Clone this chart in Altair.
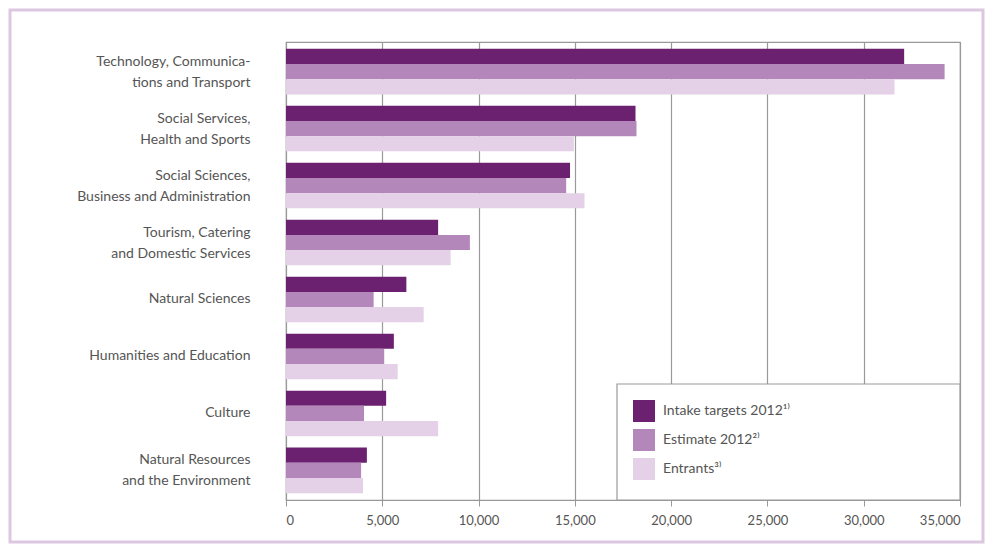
import altair as alt
import pandas as pd

categories = [
    "Technology, Communica-|tions and Transport",
    "Social Services,|Health and Sports",
    "Social Sciences,|Business and Administration",
    "Tourism, Catering|and Domestic Services",
    "Natural Sciences",
    "Humanities and Education",
    "Culture",
    "Natural Resources|and the Environment",
]
series = ["Intake targets 2012¹⁾", "Estimate 2012²⁾", "Entrants³⁾"]
intake = [32100, 18150, 14750, 7900, 6250, 5600, 5200, 4200]
estimate = [34200, 18200, 14550, 9550, 4550, 5100, 4050, 3900]
entrants = [31600, 14950, 15500, 8550, 7150, 5800, 7900, 4000]
colors = ["#6b2170", "#b487bb", "#e4d0e7"]
x_ticks = [0, 5000, 10000, 15000, 20000, 25000, 30000, 35000]

rows = []
for i, c in enumerate(categories):
    for s, vals in zip(series, [intake, estimate, entrants]):
        rows.append({"category": c, "series": s, "value": vals[i]})
df = pd.DataFrame(rows)

W, H = 674, 458
FONT = "Lato"
TXT = "#555555"

one = pd.DataFrame({"a": [0]})

frame = alt.Chart(one).mark_rect(filled=False, stroke="#dcc6e0", strokeWidth=3).encode(
    x=alt.value(-276), x2=alt.value(W + 23), y=alt.value(-32), y2=alt.value(H + 42)
)

legend_box = alt.Chart(one).mark_rect(fill="white", stroke="#999999", strokeWidth=1.2).encode(
    x=alt.value(331), x2=alt.value(W), y=alt.value(342), y2=alt.value(H)
)

bars = alt.Chart(df).mark_bar().encode(
    x=alt.X(
        "value:Q",
        scale=alt.Scale(domain=[0, 35000], nice=False),
        axis=alt.Axis(
            values=x_ticks, format=",.0f", title=None, grid=True, gridColor="#999999",
            gridWidth=1.2, domainColor="#999999", tickColor="#999999", tickSize=6,
            labelFont=FONT, labelFontSize=13, labelColor=TXT, labelPadding=8,
        ),
    ),
    y=alt.Y(
        "category:N",
        sort=categories,
        scale=alt.Scale(paddingInner=0.2, paddingOuter=0.12),
        axis=alt.Axis(
            title=None, ticks=False, domain=False, labelExpr="split(datum.label, '|')",
            labelFont=FONT, labelFontSize=14, labelColor=TXT, labelPadding=36,
            labelLineHeight=21, labelLimit=400,
            labelOffset={"condition": {"test": "indexof(datum.value, '|') >= 0", "value": -10}, "value": 0},
        ),
    ),
    yOffset=alt.YOffset("series:N", sort=series),
    color=alt.Color(
        "series:N",
        sort=series,
        scale=alt.Scale(domain=series, range=colors),
        legend=alt.Legend(
            title=None, orient="none", legendX=347, legendY=358,
            symbolType="square", symbolSize=484, symbolStrokeWidth=0,
            symbolOpacity=1, rowPadding=7, labelFont=FONT, labelFontSize=14,
            labelColor=TXT, labelOffset=8,
        ),
    ),
)

chart = alt.layer(frame, legend_box, bars).properties(
    width=W, height=H,
    padding={"left": 278, "top": 34, "right": 25, "bottom": 44},
    autosize=alt.AutoSizeParams(type="none"),
).configure_view(stroke="#999999", strokeWidth=1.2)

chart.save("out.html", embed_options={"renderer": "svg", "actions": False})
